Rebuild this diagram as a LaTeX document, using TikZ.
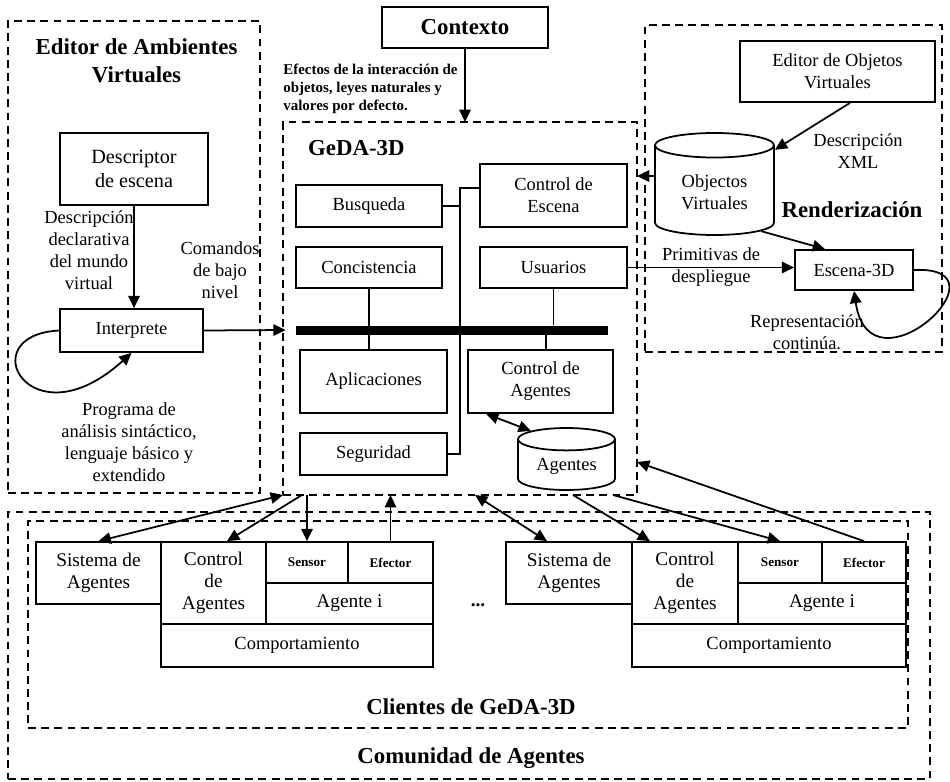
\documentclass[tikz,border=0pt]{standalone}
\usepackage{fontspec}
\setmainfont{Liberation Serif}
\usetikzlibrary{arrows.meta,positioning,shapes.geometric}
\tikzset{
  box/.style={draw, line width=1pt, align=center, inner sep=2pt, font=\fontsize{10.5}{12.5}\selectfont},
  smallbox/.style={box, font=\bfseries\fontsize{7.5}{9}\selectfont},
  store/.style={draw, line width=1pt, cylinder, shape border rotate=90, aspect=0.35, align=center, inner sep=1pt, font=\fontsize{10.5}{12.5}\selectfont},
  dashbox/.style={draw, line width=0.9pt, dash pattern=on 4.5pt off 3pt, inner sep=0pt, outer sep=0pt},
  title/.style={font=\bfseries\fontsize{13}{16}\selectfont, align=center},
  note/.style={font=\fontsize{10.5}{12.5}\selectfont, align=center, inner sep=0pt},
  arrow/.style={-{Triangle[length=7pt,width=6.5pt]}, line width=1pt},
  dblarrow/.style={{Triangle[length=7pt,width=6.5pt]}-{Triangle[length=7pt,width=6.5pt]}, line width=1pt},
  link/.style={line width=1pt}
}
\begin{document}
\begin{tikzpicture}
  \path[use as bounding box, fill=white] (0,0) rectangle (19,-15.62);

  % containers
  \node[dashbox, minimum width=5.04cm, minimum height=9.44cm] (editor) at (2.68,-5.14) {};
  \node[dashbox, minimum width=7.08cm, minimum height=7.46cm] (geda) at (9.2,-6.17) {};
  \node[dashbox, minimum width=5.94cm, minimum height=6.54cm] (render) at (15.87,-3.77) {};
  \node[dashbox, minimum width=18.44cm, minimum height=5.34cm] (comun) at (9.38,-12.91) {};
  \node[dashbox, minimum width=17.6cm, minimum height=4.14cm] (clientes) at (9.36,-12.49) {};

  \node[title] (edtitle) at (2.73,-1.21) {Editor de Ambientes\\Virtuales};
  \node[title, anchor=west] (gedatitle) at (6.04,-2.97) {GeDA-3D};
  \node[title] (rendtitle) at (17.04,-4.2) {Renderización};
  \node[title] (clititle) at (9.42,-14.14) {Clientes de GeDA-3D};
  \node[title] (comtitle) at (9.42,-15.16) {Comunidad de Agentes};

  % editor de ambientes
  \node[box, font=\fontsize{11.5}{13.6}\selectfont, minimum width=2.96cm, minimum height=1.44cm] (desc) at (2.68,-3.38) {Descriptor\\de escena};
  \node[box, minimum width=2.86cm, minimum height=0.86cm] (interp) at (2.63,-6.61) {Interprete};
  \node[note] (declnote) at (1.78,-5.0) {Descripción\\declarativa\\del mundo\\virtual};
  \node[note] (comnote) at (4.4,-5.4) {Comandos\\de bajo\\nivel};
  \node[note] (prognote) at (2.58,-8.84) {Programa de\\análisis sintáctico,\\lenguaje básico y\\extendido};

  % contexto
  \node[box, font=\bfseries\fontsize{13}{16}\selectfont, minimum width=3.32cm, minimum height=0.82cm] (contexto) at (9.3,-0.55) {Contexto};
  \node[font=\bfseries\fontsize{8.5}{10.2}\selectfont, align=left, anchor=west, inner sep=0pt] (efnote) at (5.66,-1.78) {Efectos de la interacción de\\objetos, leyes naturales y\\valores por defecto.};

  % GeDA-3D
  \node[box, minimum width=2.92cm, minimum height=0.84cm] (busq) at (7.38,-4.12) {Busqueda};
  \node[box, minimum width=2.94cm, minimum height=1.26cm] (ctlesc) at (11.07,-3.91) {Control de\\Escena};
  \node[box, minimum width=2.92cm, minimum height=0.82cm] (conc) at (7.38,-5.35) {Concistencia};
  \node[box, minimum width=2.94cm, minimum height=0.82cm] (usua) at (11.07,-5.35) {Usuarios};
  \node[box, minimum width=2.94cm, minimum height=1.26cm] (aplic) at (7.47,-7.63) {Aplicaciones};
  \node[box, minimum width=2.9cm, minimum height=1.26cm] (ctlag) at (10.81,-7.63) {Control de\\Agentes};
  \node[box, minimum width=2.94cm, minimum height=0.84cm] (segur) at (7.47,-9.08) {Seguridad};
  \node[store, minimum width=1.94cm, minimum height=1.24cm, anchor=shape center] (agentes) at (11.33,-9.18) {Agentes};
  \node[fill, inner sep=0pt, minimum width=6.24cm, minimum height=0.18cm] (bus) at (9.04,-6.6) {};
  \coordinate (trunk) at (9.2,0);

  \draw[link] (conc.south) -- (conc.south |- aplic.north);
  \draw[link] (usua.south) -- (usua.south |- bus.north);
  \draw[link] ([xshift=0.11cm]ctlag.north) -- ([xshift=0.11cm]ctlag.north |- bus.south);
  \draw[link] ([yshift=0.15cm]ctlesc.west) -| (trunk |- segur.east) -- (segur.east);
  \draw[link] (busq.east) -- (trunk |- busq.east);
  \draw[dblarrow] ([xshift=0.38cm]ctlag.south west) -- (agentes.135);

  % renderizacion
  \node[box, minimum width=3.9cm, minimum height=1.22cm] (edobj) at (16.75,-1.43) {Editor de Objetos\\Virtuales};
  \node[store, minimum width=2.38cm, minimum height=2.04cm, anchor=shape center] (ovirt) at (14.29,-3.68) {Objectos\\Virtuales};
  \node[box, minimum width=2.36cm, minimum height=0.8cm] (escena) at (17.08,-5.4) {Escena-3D};
  \node[note] (xmlnote) at (17.16,-3.02) {Descripción\\XML};
  \node[note] (repnote) at (16.14,-6.65) {Representación\\continúa.};

  \draw[arrow] ([xshift=0.25cm]edobj.south) -- (ovirt.35);
  \draw[arrow] (ovirt.-40) -- ([xshift=-0.58cm]escena.north);
  \draw[arrow] ([yshift=0.32cm]ovirt.west) -- ([yshift=0.32cm]ovirt.west -| geda.east);
  \draw[arrow] (usua.east) -- (usua.east -| escena.west)
    node[note, midway] (primnote) {Primitivas de\\despliegue};
  \draw[arrow] (escena.east) .. controls (20.3,-5.3) and (17.4,-8.0) .. (escena.south);

  % flujo del editor
  \draw[arrow] (contexto.south) -- (contexto.south |- geda.north);
  \draw[arrow] (desc.south) -- (desc.south |- interp.north);
  \draw[arrow] (interp.east) -- ([xshift=-0.2cm]bus.west);
  \draw[arrow] (interp.west) .. controls (-0.6,-6.7) and (0.6,-8.9) .. (interp.south);

  % clientes
  \node[box, font=\fontsize{11}{12.8}\selectfont, minimum width=2.5cm, minimum height=1.24cm] (sis1) at (1.97,-11.46) {Sistema de\\Agentes};
  \node[box, font=\fontsize{11}{12.4}\selectfont, minimum width=2.1cm, minimum height=1.64cm] (ctl1) at (4.27,-11.66) {Control\\de\\Agentes};
  \node[smallbox, minimum width=1.64cm, minimum height=0.82cm] (sen1) at (6.14,-11.25) {Sensor};
  \node[smallbox, minimum width=1.7cm, minimum height=0.82cm] (efe1) at (7.81,-11.25) {Efector};
  \node[box, font=\fontsize{11}{12.4}\selectfont, minimum width=3.34cm, minimum height=0.82cm] (age1) at (6.99,-12.07) {Agente i};
  \node[box, minimum width=5.44cm, minimum height=0.86cm] (com1) at (5.94,-12.91) {Comportamiento};

  \node[font=\bfseries\fontsize{11}{13}\selectfont] (dots) at (9.56,-12.1) {...};

  \node[box, font=\fontsize{11}{12.8}\selectfont, minimum width=2.52cm, minimum height=1.24cm] (sis2) at (11.38,-11.46) {Sistema de\\Agentes};
  \node[box, font=\fontsize{11}{12.4}\selectfont, minimum width=2.12cm, minimum height=1.64cm] (ctl2) at (13.7,-11.66) {Control\\de\\Agentes};
  \node[smallbox, minimum width=1.68cm, minimum height=0.82cm] (sen2) at (15.6,-11.25) {Sensor};
  \node[smallbox, minimum width=1.68cm, minimum height=0.82cm] (efe2) at (17.28,-11.25) {Efector};
  \node[box, font=\fontsize{11}{12.4}\selectfont, minimum width=3.36cm, minimum height=0.82cm] (age2) at (16.44,-12.07) {Agente i};
  \node[box, minimum width=5.48cm, minimum height=0.86cm] (com2) at (15.38,-12.91) {Comportamiento};

  \draw[dblarrow] (geda.south west) -- (sis1.north);
  \draw[arrow] ([xshift=0.38cm]geda.south west) -- ([xshift=0.27cm]ctl1.north);
  \draw[arrow] (sen1.north |- geda.south) -- (sen1.north);
  \draw[arrow] (efe1.north) -- (efe1.north |- geda.south);
  \draw[dblarrow] ([xshift=0.3cm]geda.south) -- ([xshift=-0.44cm]sis2.north);
  \draw[arrow] ([xshift=2.26cm]geda.south) -- ([xshift=-0.7cm]ctl2.north);
  \draw[arrow] ([xshift=3.06cm]geda.south) -- (sen2.north);
  \draw[arrow] (efe2.north) -- ([yshift=-3.07cm]geda.east);
\end{tikzpicture}
\end{document}
